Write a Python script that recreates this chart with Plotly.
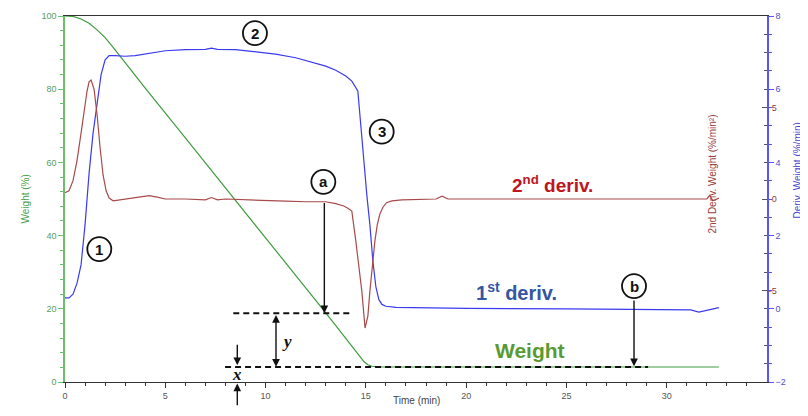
import plotly.graph_objects as go

# ---- data ----
time_w = [0, 0.4, 0.8, 1.2, 1.6, 2.0, 2.4, 2.8, 3.2, 4, 6, 8, 10, 12, 13, 14.0, 14.4, 14.7, 14.9,
          15.1, 15.3, 15.6, 16.0, 20, 25, 30, 32.6]
weight = [100, 99.9, 99.2, 98.0, 96.2, 94.1, 91.4, 88.6, 85.8, 80.3, 66.7, 53.1, 39.5, 25.8, 18.9,
          11.9, 9.1, 6.9, 5.6, 4.7, 4.3, 4.12, 4.1, 4.1, 4.1, 4.1, 4.1]

time_d1 = [0, 0.2, 0.4, 0.6, 0.8, 1.0, 1.2, 1.4, 1.6, 1.8, 2.0, 2.2, 2.5, 3.0, 3.5, 4.0, 4.5, 5.0,
           6.0, 7.0, 7.3, 7.6, 8.5, 9.5, 10.5, 11.5, 12.5, 13.0, 13.5, 14.0, 14.3, 14.6, 14.75,
           14.9, 15.05, 15.2, 15.35, 15.5, 15.65, 15.8, 16.0, 16.5, 17.5, 20, 25, 28, 31.2, 31.6,
           32.0, 32.6]
deriv1 = [0.30, 0.30, 0.40, 0.7, 1.2, 2.3, 3.7, 4.8, 5.6, 6.4, 6.8, 6.92, 6.92, 6.90, 6.92, 6.97,
          7.02, 7.05, 7.08, 7.09, 7.12, 7.09, 7.08, 7.03, 6.96, 6.86, 6.72, 6.63, 6.52, 6.36, 6.22,
          5.95, 5.0, 4.0, 3.1, 2.3, 1.3, 0.6, 0.25, 0.12, 0.07, 0.04, 0.03, 0.01, 0.0, -0.02,
          -0.03, -0.09, -0.04, 0.03]

time_d2 = [0, 0.2, 0.4, 0.6, 0.8, 1.0, 1.1, 1.2, 1.3, 1.45, 1.6, 1.75, 1.9, 2.05, 2.2, 2.4, 2.7,
           3.0, 3.5, 3.9, 4.2, 4.6, 5.0, 6, 7, 7.3, 7.6, 8, 9, 10, 11, 12, 13, 13.5, 13.9, 14.1,
           14.3, 14.5, 14.65, 14.8, 14.96, 15.1, 15.2, 15.32, 15.45, 15.57, 15.7, 15.85, 16.03,
           16.3, 16.8, 18.5, 18.8, 19.1, 20, 25, 30, 32.0, 32.15, 32.3, 32.6]
deriv2 = [0.35, 0.45, 1.0, 2.1, 3.6, 5.2, 5.9, 6.4, 6.5, 6.0, 4.6, 2.8, 1.3, 0.45, 0.05, -0.1,
          -0.05, 0.0, 0.05, 0.12, 0.18, 0.1, 0.0, 0.0, -0.05, 0.08, -0.05, 0.0, -0.05, -0.1, -0.12,
          -0.15, -0.15, -0.25, -0.38, -0.5, -0.66, -2.3, -3.7, -5.05, -7.05, -6.4, -5.05, -3.7,
          -2.3, -1.4, -0.82, -0.45, -0.2, -0.1, -0.05, 0.0, 0.15, 0.0, 0.0, 0.0, 0.0, 0.0, 0.2,
          -0.1, 0.05]

time_ticks = [0, 5, 10, 15, 20, 25, 30, 35]
weight_ticks = [0, 20, 40, 60, 80, 100]
d1_ticks = [-2, 0, 2, 4, 6, 8]
d2_ticks = [-5, 0, 5]

GREEN = "#3e9c3e"
BLUE = "#3a3af0"
RED = "#a84a4a"
FONT = "Liberation Sans, Arial, sans-serif"

fig = go.Figure()
fig.add_trace(go.Scatter(x=time_w, y=weight, mode="lines", yaxis="y",
                         line=dict(color=GREEN, width=1.2), showlegend=False))
fig.add_trace(go.Scatter(x=time_d1, y=deriv1, mode="lines", yaxis="y2",
                         line=dict(color=BLUE, width=1.2), showlegend=False))
fig.add_trace(go.Scatter(x=time_d2, y=deriv2, mode="lines", yaxis="y3",
                         line=dict(color=RED, width=1.2), showlegend=False))

# page body has an 8px margin, so the figure is shifted by 8px; compensate in the margins
fig.update_layout(
    width=800, height=408,
    margin=dict(l=57, r=41, t=8, b=34),
    paper_bgcolor="white", plot_bgcolor="white",
    font=dict(family=FONT, size=9),
    xaxis=dict(range=[0, 35], tickvals=time_ticks, showline=True, linecolor="#333",
               linewidth=1, mirror=True, ticks="outside", ticklen=5, tickcolor="#333",
               minor=dict(dtick=1, ticks="outside", ticklen=3, tickcolor="#333"),
               showgrid=False, zeroline=False, automargin=False,
               tickfont=dict(size=9, color="#555")),
    yaxis=dict(range=[0, 100], tickvals=weight_ticks, showline=True, linecolor="#6cbf6c",
               linewidth=1.5, ticks="outside", ticklen=5, tickcolor="#6cbf6c",
               minor=dict(dtick=4, ticks="outside", ticklen=3, tickcolor="#6cbf6c"),
               showgrid=False, zeroline=False, automargin=False,
               tickfont=dict(size=9, color="#5a9a5a")),
    yaxis2=dict(range=[-2, 8], tickvals=d1_ticks, overlaying="y", side="right", anchor="x",
                showline=True, linecolor="#5555ff", linewidth=1.5, ticks="outside",
                ticklen=5, tickcolor="#5555ff",
                minor=dict(dtick=0.5, ticks="outside", ticklen=3, tickcolor="#5555ff"),
                showgrid=False, zeroline=False, automargin=False,
                tickfont=dict(size=9, color="#5050c8")),
    yaxis3=dict(range=[-10, 10], tickvals=d2_ticks, overlaying="y", side="right", anchor="x",
                showline=False, ticks="inside", ticklen=5, tickcolor="#555",
                ticklabelposition="inside", ticklabelstandoff=-16,
                minor=dict(dtick=1, ticks="inside", ticklen=3, tickcolor="#555"),
                showgrid=False, zeroline=False, automargin=False,
                tickfont=dict(size=9, color="#8a3a3a")),
)

ann = []
# axis titles
ann.append(dict(text="Weight (%)", xref="paper", yref="paper", x=-0.067, y=0.5,
                textangle=-90, showarrow=False, font=dict(size=10, color="#4aa04a")))
ann.append(dict(text="Time (min)", xref="paper", yref="paper", x=0.501, y=-0.071,
                showarrow=False, font=dict(size=10, color="#444")))
ann.append(dict(text="2nd Deriv. Weight (%/min²)", xref="paper", yref="paper", x=0.933,
                y=0.568, textangle=-90, showarrow=False, font=dict(size=10, color="#9a4040")))
ann.append(dict(text="Deriv. Weight (%/min)", xref="paper", yref="paper", x=1.054, y=0.579,
                textangle=-90, showarrow=False, font=dict(size=10, color="#4848d0")))

# big series labels
ann.append(dict(text="<b>2<sup>nd</sup> deriv.</b>", x=24.33, y=54.1, xref="x", yref="y",
                showarrow=False, font=dict(size=19, color="#c0141e", family=FONT)))
ann.append(dict(text="<b>1<sup>st</sup> deriv.</b>", x=22.51, y=24.6, xref="x", yref="y",
                showarrow=False, font=dict(size=20, color="#3556a3", family=FONT)))
ann.append(dict(text="<b>Weight</b>", x=23.18, y=8.5, xref="x", yref="y",
                showarrow=False, font=dict(size=21, color="#5a9a32", family=FONT)))

# arrows
def arrow(x, y, ax, ay, side="end"):
    return dict(x=x, y=y, ax=ax, ay=ay, xref="x", yref="y", axref="x", ayref="y",
                text="", showarrow=True, arrowhead=2, arrowsize=1.1, arrowwidth=1.4,
                arrowcolor="#111", standoff=0, startstandoff=0, arrowside=side,
                startarrowhead=2, startarrowsize=1.1)

ann.append(arrow(12.93, 18.8, 12.93, 49.3))
ann.append(arrow(28.37, 4.3, 28.37, 22.7))
ann.append(arrow(10.52, 4.2, 10.52, 18.7, side="end+start"))
ann.append(arrow(8.59, 4.6, 8.59, 10.6))
# arrow below the axis (pixel offset tail)
ann.append(dict(x=8.59, y=-0.004, xref="x", yref="paper", ax=0, ay=23.4, axref="pixel",
                ayref="pixel", text="", showarrow=True, arrowhead=2, arrowsize=1.1,
                arrowwidth=1.4, arrowcolor="#111", standoff=0, startstandoff=0))

# italic letters
ann.append(dict(text="<b><i>y</i></b>", x=11.08, y=11.0, xref="x", yref="y", showarrow=False,
                font=dict(size=17, color="#111", family="Liberation Serif, Times New Roman, serif")))
ann.append(dict(text="<b><i>x</i></b>", x=8.59, y=2.1, xref="x", yref="y", showarrow=False,
                font=dict(size=17, color="#111", family="Liberation Serif, Times New Roman, serif")))

# circled markers
circles = [("1", 1.71, 36.3), ("2", 9.47, 95.3), ("3", 15.79, 68.4), ("a", 12.88, 54.7),
           ("b", 28.37, 26.2)]
shapes = []
for lab, cx, cy in circles:
    shapes.append(dict(type="circle", xref="x", yref="y", xsizemode="pixel",
                       ysizemode="pixel", xanchor=cx, yanchor=cy, x0=-12, x1=12, y0=-12,
                       y1=12, line=dict(color="#111", width=1.8), fillcolor="white"))
    ann.append(dict(text="<b>%s</b>" % lab, x=cx, y=cy, xref="x", yref="y", showarrow=False,
                    font=dict(size=15, color="#111", family=FONT)))

# dashed guide lines
shapes.append(dict(type="line", xref="x", yref="y", x0=8.39, x1=14.37, y0=18.8, y1=18.8,
                   line=dict(color="#111", width=2, dash="6px,4px")))
shapes.append(dict(type="line", xref="x", yref="y", x0=7.98, x1=29.07, y0=4.1, y1=4.1,
                   line=dict(color="#111", width=2, dash="6px,4px")))

fig.update_layout(annotations=ann, shapes=shapes)
fig.write_html("out.html")
